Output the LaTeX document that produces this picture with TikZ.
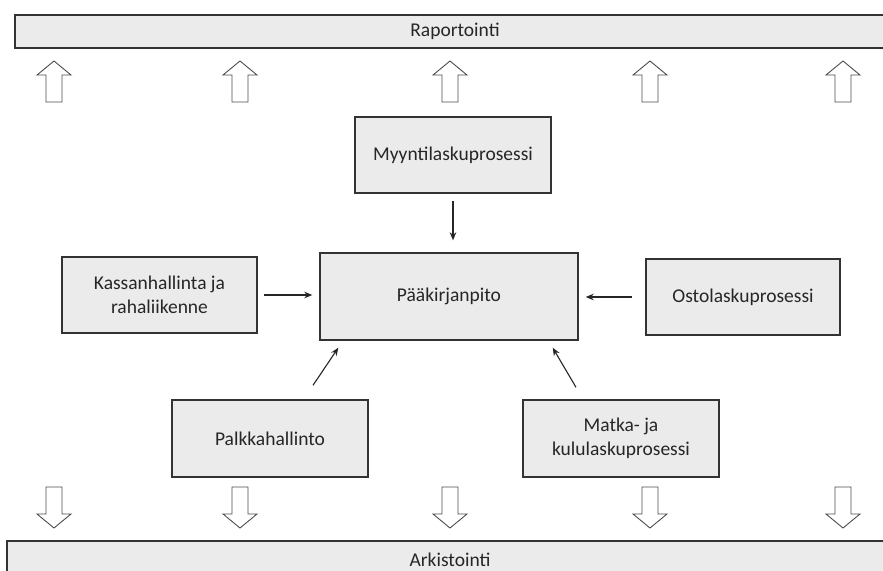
\documentclass[tikz,border=0pt]{standalone}
\usepackage{fontspec}
\setmainfont{Carlito}
\usetikzlibrary{calc,arrows.meta}
\definecolor{boxline}{HTML}{333333}
\definecolor{boxfill}{HTML}{EBEBEB}
\definecolor{txt}{HTML}{262626}
\definecolor{arrline}{HTML}{4D4D4D}
\begin{document}
\begin{tikzpicture}[x=1pt,y=-1pt,
  box/.style={draw=boxline,fill=boxfill,line width=1.4pt,minimum width=196pt,minimum height=76pt,inner sep=0pt,align=center,text=txt,font=\fontsize{19.5}{23.5}\selectfont},
  bar/.style={box,minimum height=33pt},
  conn/.style={draw=black!85,line width=1.1pt,-{Stealth[length=8pt,width=6.5pt]}},
  blockarrow/.style={draw=arrline,fill=white,line width=0.9pt,line join=miter}]
\useasboundingbox (0,0) rectangle (883,570);
\fill[white] (0,0) rectangle (883,570);

% bars
\node[bar,minimum width=880pt] (rap) at (455,31.5) {Raportointi};
\node[bar,minimum width=886pt,minimum height=37pt] (ark) at (450,559.5) {Arkistointi};

% block arrows
\foreach \c in {54,240,450,650,843}{
  \draw[blockarrow] ({\c},61) -- ({\c+17},75) -- ({\c+8},75) -- ({\c+8},102)
    -- ({\c-8},102) -- ({\c-8},75) -- ({\c-17},75) -- cycle;
  \draw[blockarrow] ({\c},528) -- ({\c+17},514) -- ({\c+8},514) -- ({\c+8},487)
    -- ({\c-8},487) -- ({\c-8},514) -- ({\c-17},514) -- cycle;
}

% boxes
\node[box] (myynti) at (453,155) {Myyntilaskuprosessi};
\node[box,minimum width=258pt,minimum height=87pt] (paa) at (449,296.5) {Pääkirjanpito};
\node[box,minimum width=195pt] (kassa) at (159.5,295) {Kassanhallinta ja\\rahaliikenne};
\node[box,minimum width=194pt] (osto) at (743,297) {Ostolaskuprosessi};
\node[box,minimum height=77pt] (palkka) at (270,438.5) {Palkkahallinto};
\node[box,minimum height=77pt] (matka) at (621,438.5) {Matka- ja\\kululaskuprosessi};

% connectors
\draw[conn,shorten <=7pt,shorten >=12pt] (myynti.south) -- (myynti.south |- paa.north);
\draw[conn,shorten <=6pt,shorten >=7pt] (kassa.east) -- (kassa.east -| paa.west);
\draw[conn,shorten <=13pt,shorten >=7pt] (osto.west) -- (osto.west -| paa.east);
\draw[conn] ($(palkka.north)+(43,-14)$) -- ($(paa.south west)+(19,7)$);
\draw[conn] ($(matka.north)+(-45,-12)$) -- ($(paa.south east)+(-26,7)$);
\end{tikzpicture}
\end{document}
